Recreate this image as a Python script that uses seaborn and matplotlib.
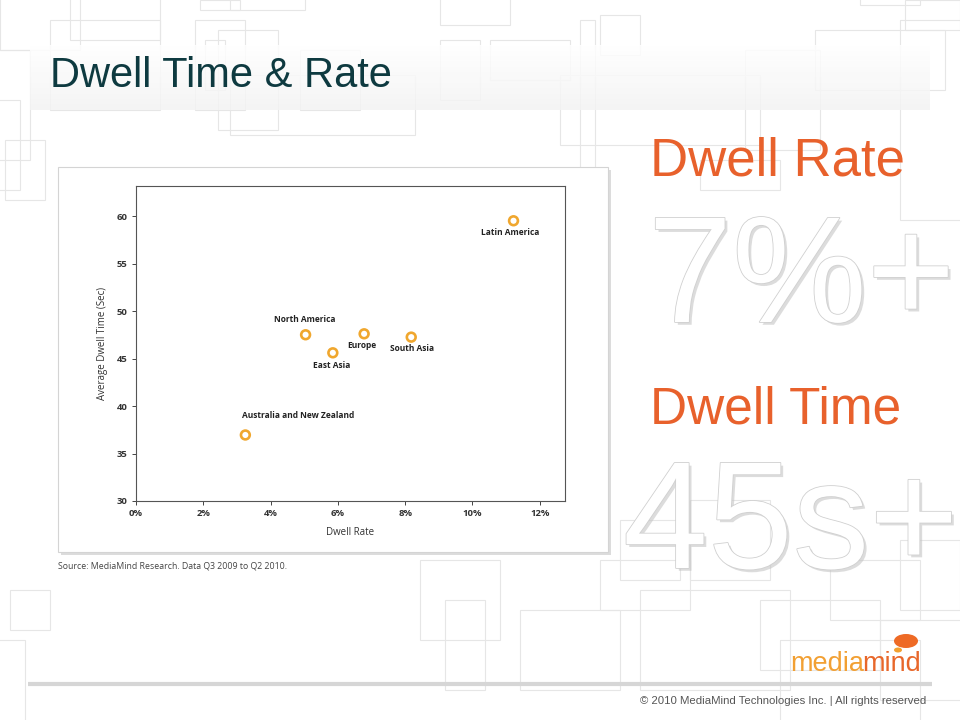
import numpy as np
import matplotlib
matplotlib.use("Agg")
import matplotlib.pyplot as plt
import matplotlib.patheffects as pe
from matplotlib.patches import Rectangle, Ellipse
from matplotlib.ticker import FuncFormatter
import seaborn as sns
import pandas as pd

# ---- data ----
regions = ["Latin America", "North America", "East Asia", "Europe",
           "South Asia", "Australia and New Zealand"]
dwell_rate = [11.22, 5.04, 5.85, 6.78, 8.18, 3.25]      # percent
dwell_time = [59.5, 47.5, 45.6, 47.6, 47.25, 36.95]     # seconds
x_ticks = [0, 2, 4, 6, 8, 10, 12]
y_ticks = [30, 35, 40, 45, 50, 55, 60]

# label offsets (pixels) relative to each point
label_offsets = {
    "Latin America": (-3, -12),
    "North America": (-1, 15),
    "East Asia": (-1, -13),
    "Europe": (-2, -12),
    "South Asia": (1, -11),
    "Australia and New Zealand": (53, 19),
}

df = pd.DataFrame({"region": regions, "rate": dwell_rate, "time": dwell_time})

sns.set_style("white")
plt.rcParams['font.family'] = ['Liberation Sans', 'DejaVu Sans']

fig = plt.figure(figsize=(9.6, 7.2), dpi=100)

# =========================
# slide background (pixel coords)
# =========================
bg = fig.add_axes([0, 0, 1, 1])
bg.set_xlim(0, 960)
bg.set_ylim(720, 0)
bg.axis("off")

deco = [(0, -10, 80, 60), (50, 20, 110, 90), (70, -5, 90, 45), (-10, 50, 40, 110),
        (195, 20, 50, 90), (230, -5, 75, 15), (200, 0, 40, 10),
        (218, 30, 60, 100), (5, 140, 40, 60), (-5, 100, 25, 90),
        (300, 50, 60, 60), (440, 40, 40, 60), (230, 75, 185, 60),
        (205, 40, 20, 50), (440, -5, 70, 30), (490, 40, 80, 40),
        (560, 75, 200, 70), (600, 15, 40, 40), (745, 50, 75, 100),
        (815, 30, 130, 60), (860, -5, 60, 10), (905, 0, 55, 30),
        (900, 20, 70, 200), (580, 20, 15, 170), (700, 160, 80, 30),
        (420, 560, 80, 80), (445, 600, 40, 90), (600, 560, 90, 50),
        (640, 590, 150, 100), (760, 600, 120, 70), (780, 640, 140, 90),
        (880, 620, 90, 80), (900, 540, 60, 70), (10, 590, 40, 40),
        (-5, 640, 30, 90), (520, 610, 100, 80), (830, 560, 90, 60),
        (690, 500, 80, 80), (620, 520, 60, 60)]
for (x0, y0, w, h) in deco:
    bg.add_patch(Rectangle((x0, y0), w, h, fill=False, edgecolor="#e6e6e6",
                           linewidth=0.8, zorder=0))

# title band with soft gradient
grad = np.linspace(0, 1, 64).reshape(-1, 1)
bg.imshow(grad, extent=(30, 930, 110, 45), cmap=matplotlib.colors.LinearSegmentedColormap.from_list(
    "band", ["#ffffff", "#f3f3f3"]), aspect="auto", alpha=0.85, zorder=1)

bg.text(50, 87, "Dwell Time & Rate", fontsize=30, color="#0e3a40",
        ha="left", va="baseline", zorder=2)

# chart panel with shadow
bg.add_patch(Rectangle((61, 170), 550, 385, facecolor="#dcdcdc", edgecolor="none", zorder=2))
bg.add_patch(Rectangle((58, 167), 550, 385, facecolor="white", edgecolor="#d4d4d4",
                       linewidth=0.8, zorder=3))

bg.text(58, 569, "Source: MediaMind Research. Data Q3 2009 to Q2 2010.",
        fontsize=6.3, color="#444444", family=["Open Sans", "DejaVu Sans"],
        ha="left", va="baseline", zorder=3)

# right side headline numbers
orange = "#e8612c"
bg.text(650, 176, "Dwell Rate", fontsize=38, color=orange, ha="left", va="baseline", zorder=4)
bg.text(650, 423, "Dwell Time", fontsize=37, color=orange, ha="left", va="baseline", zorder=4)

big_fx = [pe.SimplePatchShadow(offset=(2, -2), shadow_rgbFace="#c0c0c0", alpha=0.55),
          pe.withStroke(linewidth=1.2, foreground="#d0d0d0")]
bg.text(648, 322, "7%+", fontsize=109, color="white", ha="left", va="baseline",
        zorder=4, path_effects=big_fx)
bg.text(623, 568, "45s+", fontsize=110, color="white", ha="left", va="baseline",
        zorder=4, path_effects=big_fx)

# footer
bg.plot([28, 932], [684, 684], color="#d6d6d6", linewidth=3, zorder=4,
        solid_capstyle="butt")
bg.text(926, 704, "\u00a9 2010 MediaMind Technologies Inc. | All rights reserved",
        fontsize=8.2, color="#555555", ha="right", va="baseline", zorder=4)
bg.text(790, 671, "media", fontsize=19.5, color="#f2a033", ha="left", va="baseline", zorder=4)
bg.text(862, 671, "mind", fontsize=19.5, color="#e8672a", ha="left", va="baseline", zorder=4)
bg.add_patch(Ellipse((906, 641), 24, 14, facecolor="#ee6a25", edgecolor="none", zorder=4))
bg.add_patch(Ellipse((898, 650), 8, 5, facecolor="#f3a02f", edgecolor="none", zorder=4))

# =========================
# scatter chart
# =========================
ax = fig.add_axes([136 / 960, 1 - 501 / 720, (565 - 136) / 960, (501 - 186) / 720])
ax.set_zorder(5)
ax.patch.set_alpha(0)

sns.scatterplot(data=df, x="rate", y="time", ax=ax, s=40, marker="o",
                facecolor="none", edgecolor="#f0a72e", linewidth=1.9, zorder=3)

ax.set_xlim(0, 12.75)
ax.set_ylim(30, 63.16)
ax.set_xticks(x_ticks)
ax.set_yticks(y_ticks)
ax.xaxis.set_major_formatter(FuncFormatter(lambda v, p: f"{v:.0f}%"))

small = ["Open Sans", "DejaVu Sans"]
for lab in ax.get_xticklabels() + ax.get_yticklabels():
    lab.set_family(small)
    lab.set_fontsize(6.8)
    lab.set_fontweight("bold")
    lab.set_color("#333333")

ax.tick_params(axis="both", which="major", direction="out", length=3,
               width=0.7, color="#444444", pad=3, bottom=True, left=True)

ax.set_xlabel("Dwell Rate", fontsize=7, family=small, color="#333333", labelpad=6)
ax.set_ylabel("Average Dwell Time (Sec)", fontsize=7, family=small,
              color="#333333", labelpad=6)

for sp in ax.spines.values():
    sp.set_visible(True)
    sp.set_color("#555555")
    sp.set_linewidth(0.8)

for name, xv, yv in zip(regions, dwell_rate, dwell_time):
    dx, dy = label_offsets[name]
    ax.annotate(name, (xv, yv), xytext=(dx, dy), textcoords="offset pixels",
                ha="center", va="center", fontsize=6, family=small,
                fontweight="bold", color="#222222")

fig.savefig("out.png", dpi=100)
